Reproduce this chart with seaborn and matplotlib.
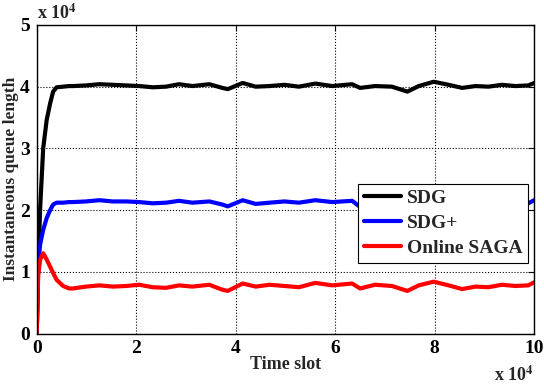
import matplotlib
matplotlib.use("Agg")
import matplotlib.pyplot as plt
import seaborn as sns

# time slot (x 10^4) and queue lengths (x 10^4)
time_slot = [0, 0.03, 0.07, 0.13, 0.2, 0.27, 0.33, 0.4,
             0.53, 0.65, 0.73, 0.99, 1.26, 1.53, 1.8, 2.06,
             2.33, 2.6, 2.86, 3.13, 3.47, 3.73, 3.84, 4.14,
             4.4, 4.68, 4.98, 5.27, 5.6, 5.94, 6.34, 6.5,
             6.8, 7.14, 7.45, 7.68, 7.98, 8.28, 8.55, 8.82,
             9.08, 9.35, 9.62, 9.88, 10.0]

sdg = [0, 1.1, 2.05, 3.0, 3.46, 3.73, 3.92, 3.99,
       4.0, 4.01, 4.01, 4.02, 4.04, 4.03, 4.02, 4.01,
       3.99, 4.0, 4.04, 4.01, 4.04, 3.98, 3.96, 4.06,
       4.0, 4.01, 4.03, 4.0, 4.05, 4.01, 4.04, 3.98,
       4.01, 4.0, 3.92, 4.01, 4.08, 4.03, 3.98, 4.01,
       4.0, 4.03, 4.01, 4.02, 4.06]

sdg_plus = [0, 1.14, 1.45, 1.68, 1.87, 2.0, 2.09, 2.12,
            2.12, 2.13, 2.13, 2.14, 2.16, 2.14, 2.14, 2.13,
            2.11, 2.12, 2.15, 2.12, 2.14, 2.09, 2.06, 2.16,
            2.1, 2.12, 2.14, 2.12, 2.16, 2.13, 2.15, 2.05,
            2.12, 2.13, 2.08, 2.12, 2.15, 2.13, 2.1, 2.12,
            2.12, 2.14, 2.12, 2.11, 2.16]

online_saga = [0, 0.95, 1.2, 1.3, 1.2, 1.08, 0.98, 0.87,
               0.77, 0.73, 0.73, 0.76, 0.78, 0.76, 0.77, 0.79,
               0.75, 0.74, 0.78, 0.76, 0.79, 0.71, 0.69, 0.81,
               0.76, 0.79, 0.77, 0.75, 0.82, 0.78, 0.81, 0.73,
               0.79, 0.77, 0.69, 0.78, 0.84, 0.78, 0.72, 0.76,
               0.75, 0.79, 0.77, 0.78, 0.83]

sns.set_theme(style="white")
plt.rcParams["font.family"] = ["Liberation Serif", "DejaVu Serif"]
plt.rcParams["font.weight"] = "bold"
plt.rcParams["mathtext.fontset"] = "stix"

fig = plt.figure(figsize=(5.44, 3.84), dpi=100)
ax = fig.add_axes([0.0675, 0.1315, 0.9145, 0.8035])

sns.lineplot(x=time_slot, y=sdg, color="black", lw=3, label="SDG", ax=ax)
sns.lineplot(x=time_slot, y=sdg_plus, color="#0000ff", lw=3, label="SDG+", ax=ax)
sns.lineplot(x=time_slot, y=online_saga, color="#ff0000", lw=3, label="Online SAGA", ax=ax)

ax.set_xlim(0, 10)
ax.set_ylim(0, 5)
ax.set_xticks(range(0, 11, 2))
ax.set_yticks(range(0, 6))
ax.grid(True, color="black", linestyle=":", linewidth=0.8)
for s in ax.spines.values():
    s.set_color("black")
    s.set_linewidth(1.0)
ax.tick_params(direction="in", length=4, width=0.8, top=True, right=True,
               labelsize=14, pad=5, colors="black")

ax.set_xlabel("Time slot", fontsize=13, fontweight="bold", labelpad=-1)
ax.set_ylabel("Instantaneous queue length", fontsize=12.5, fontweight="bold", labelpad=1)

ax.text(0.0, 1.005, r"x 10$^{\mathbf{4}}$", transform=ax.transAxes, fontsize=13,
        fontweight="bold", ha="left", va="bottom")
ax.text(1.0, -0.105, r"x 10$^{\mathbf{4}}$", transform=ax.transAxes, fontsize=13,
        fontweight="bold", ha="right", va="top")

leg = ax.legend(loc="upper right", bbox_to_anchor=(0.988, 0.485), fontsize=14,
                frameon=True, fancybox=False, framealpha=1, handlelength=1.9,
                labelspacing=0.38, borderpad=0.3, handletextpad=0.3, borderaxespad=0)
leg.get_frame().set_edgecolor("black")
leg.get_frame().set_linewidth(0.8)

fig.savefig("out.png", dpi=100, facecolor="white")
